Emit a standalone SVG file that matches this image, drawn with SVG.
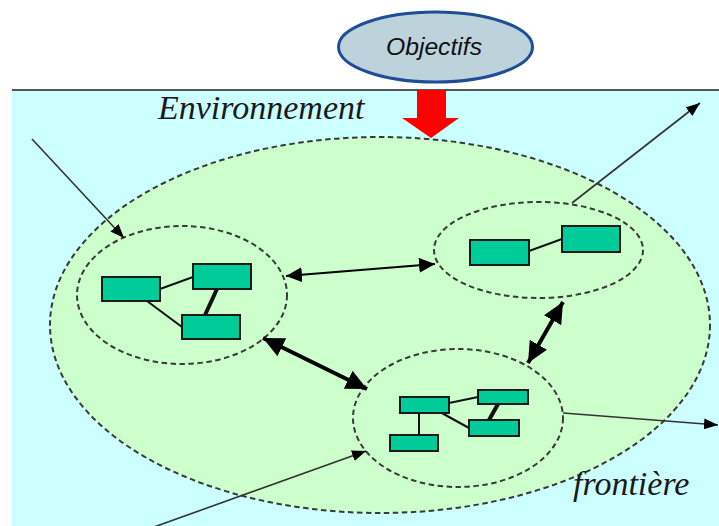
<svg xmlns="http://www.w3.org/2000/svg" width="719" height="526" viewBox="0 0 719 526">
  <style>
    .zone { fill: #ccffcc; stroke: #3a3a3a; stroke-width: 2; stroke-dasharray: 5.5 3.5; }
    .box { fill: #00cc99; stroke: #1a1a1a; stroke-width: 2; }
    .link { stroke: #111; stroke-width: 2; fill: none; }
    .link.bold { stroke-width: 4; }
    .flow { stroke: #333; stroke-width: 1.6; fill: none; }
    .exchange { stroke: #000; fill: none; }
    .label { font-family: "Liberation Serif", "Times New Roman", serif; font-style: italic; font-size: 34px; fill: #1a1a1a; }
  </style>
  <defs>
    <marker id="headSmall" markerUnits="userSpaceOnUse" markerWidth="15" markerHeight="11" refX="14" refY="5.5" orient="auto-start-reverse">
      <path d="M0,0 L14,5.5 L0,11 z" fill="#000"/>
    </marker>
    <marker id="headMid" markerUnits="userSpaceOnUse" markerWidth="17" markerHeight="15" refX="16" refY="7.5" orient="auto-start-reverse">
      <path d="M0,0 L16,7.5 L0,15 z" fill="#000"/>
    </marker>
    <marker id="headBig" markerUnits="userSpaceOnUse" markerWidth="22" markerHeight="20" refX="21" refY="10" orient="auto-start-reverse">
      <path d="M0,0 L21,10 L0,20 z" fill="#000"/>
    </marker>
  </defs>

  <!-- page and surrounding environment -->
  <rect x="0" y="0" width="719" height="526" fill="#ffffff"/>
  <rect x="12" y="90" width="707" height="436" fill="#ccffff"/>
  <line x1="12" y1="90" x2="719" y2="90" stroke="#555" stroke-width="2"/>

  <!-- system boundary -->
  <g id="system">
    <ellipse class="zone" cx="380" cy="325" rx="330" ry="188"/>
  </g>

  <!-- goals feeding into the system -->
  <g id="objectifs">
    <ellipse cx="435.5" cy="47" rx="97" ry="35" fill="#bcd3db" stroke="#1f4e96" stroke-width="3"/>
    <text x="386" y="55" textLength="96" lengthAdjust="spacingAndGlyphs" font-family="'Liberation Sans', Arial, sans-serif" font-style="italic" font-size="24" fill="#111">Objectifs</text>
  </g>
  <polygon points="417,90 446,90 446,118 459,118 431,138 402,118 417,118" fill="#ff0000"/>

  <text class="label" x="158" y="119">Environnement</text>
  <text class="label" x="573" y="495" font-size="35">frontière</text>

  <!-- subsystem 1 (left) -->
  <g id="subsystem-left">
    <ellipse class="zone" cx="182" cy="295" rx="105" ry="69"/>
    <line class="link" x1="160" y1="289" x2="193" y2="277"/>
    <line class="link" x1="147" y1="301" x2="182" y2="327"/>
    <line class="link bold" x1="217" y1="289" x2="205" y2="315"/>
    <rect class="box" x="102" y="277" width="58" height="24"/>
    <rect class="box" x="193" y="264" width="58" height="25"/>
    <rect class="box" x="182" y="315" width="58" height="24"/>
  </g>

  <!-- subsystem 2 (top right) -->
  <g id="subsystem-right">
    <ellipse class="zone" cx="538.5" cy="250" rx="104.5" ry="48"/>
    <line class="link" x1="529" y1="251" x2="562" y2="239"/>
    <rect class="box" x="470" y="240" width="59" height="25"/>
    <rect class="box" x="562" y="226" width="58" height="26"/>
  </g>

  <!-- subsystem 3 (bottom) -->
  <g id="subsystem-bottom">
    <ellipse class="zone" cx="458" cy="418" rx="105" ry="69"/>
    <line class="link" x1="449" y1="403" x2="478" y2="397"/>
    <line class="link" x1="440" y1="412" x2="469" y2="428"/>
    <line class="link bold" x1="498" y1="404" x2="489" y2="420"/>
    <line class="link" x1="419" y1="413" x2="419" y2="435"/>
    <rect class="box" x="400" y="397" width="49" height="16"/>
    <rect class="box" x="478" y="390" width="50" height="14"/>
    <rect class="box" x="469" y="420" width="50" height="16"/>
    <rect class="box" x="390" y="435" width="48" height="16"/>
  </g>

  <!-- connectors -->
  <g id="connectors">
    <line class="exchange" stroke-width="2.2" x1="286" y1="276" x2="435" y2="264" marker-start="url(#headMid)" marker-end="url(#headMid)"/>
    <line class="exchange" stroke-width="4" x1="263" y1="338" x2="367" y2="389" marker-start="url(#headBig)" marker-end="url(#headBig)"/>
    <line class="exchange" stroke-width="4" x1="563" y1="302" x2="528" y2="363" marker-start="url(#headBig)" marker-end="url(#headBig)"/>
    <line class="flow" x1="32" y1="139" x2="124" y2="238" marker-end="url(#headSmall)"/>
    <line class="flow" x1="572" y1="203" x2="700" y2="103" marker-end="url(#headSmall)"/>
    <line class="flow" x1="563" y1="413" x2="718" y2="425" marker-end="url(#headSmall)"/>
    <line class="flow" x1="140" y1="532" x2="366" y2="451" marker-end="url(#headSmall)"/>
  </g>
</svg>
